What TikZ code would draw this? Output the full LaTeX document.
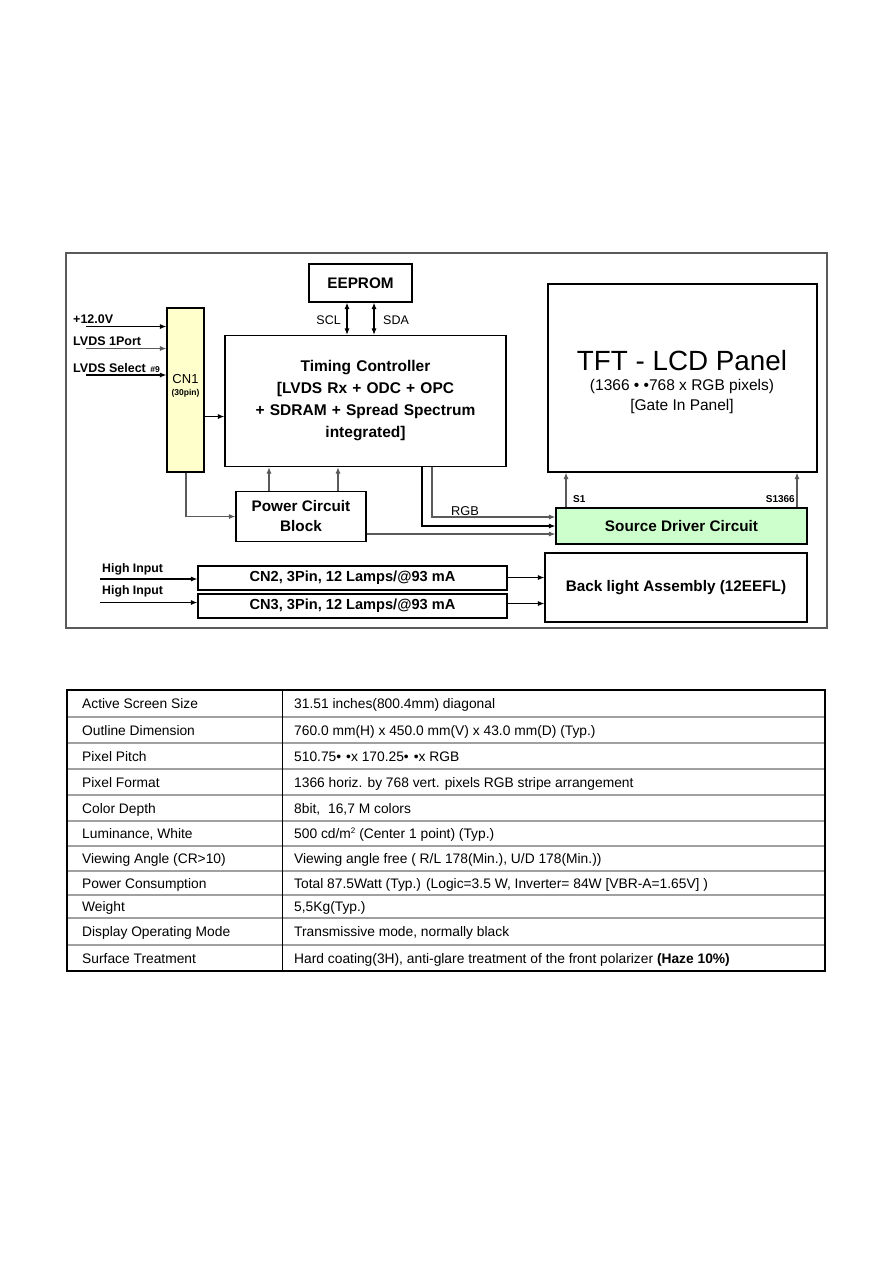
\documentclass[tikz,border=0pt]{standalone}
\usepackage{fontspec}
\setmainfont{Liberation Sans}
\usetikzlibrary{arrows.meta}
\definecolor{cnyellow}{HTML}{FFFFCC}
\definecolor{sdgreen}{HTML}{CCFFCC}
\definecolor{lgray}{HTML}{A0A0A0}
\definecolor{mgray}{HTML}{5A5A5A}
\newcommand{\fsz}[2]{\fontsize{#1}{#2}\selectfont}
\begin{document}
\begin{tikzpicture}[x=1pt,y=-1pt,
  blk/.style={draw=black, line width=1.1pt, inner sep=0pt, font=\fsz{15.3}{18}\bfseries, align=center},
  arr/.style={-{Latex[length=6.5pt,width=5pt]}, line width=1.1pt},
  garr/.style={arr, draw=mgray},
  darr/.style={{Latex[length=6.5pt,width=5pt]}-{Latex[length=6.5pt,width=5pt]}, line width=1.1pt},
  lbl/.style={inner sep=0pt, anchor=base west, font=\fsz{12.5}{14}\bfseries},
  cell/.style={inner sep=0pt, anchor=base west, font=\fsz{13.8}{16}},
  ptxt/.style={inner sep=0pt, anchor=base},
]
\fill[white] (0,0) rectangle (893,1263);
\useasboundingbox (0,0) rectangle (893,1263);

% frame of the block diagram
\draw[line width=1.1pt, mgray] (66,253) rectangle (827,628);

% blocks
\node[blk, minimum width=103pt, minimum height=38pt] (eeprom) at (360.5,283) {EEPROM};
\node[blk, minimum width=281pt, minimum height=131pt, text width=275pt, font=\fsz{15.5}{22}\bfseries] (tc) at (365.5,401)
  {Timing Controller\\{}[LVDS Rx + ODC + OPC\\{}+ SDRAM + Spread Spectrum\\{}integrated]};
\node[blk, fill=cnyellow, minimum width=37pt, minimum height=164pt] (cn1) at (185.5,390) {};
\node[inner sep=0pt, align=center, font=\fsz{13}{12}] (cn1t) at (185.5,386) {CN1\\{\fsz{8.5}{9}\bfseries (30pin)}};
\node[blk, minimum width=130pt, minimum height=50pt, font=\fsz{15.3}{20}\bfseries] (pw) at (301,516.5) {Power Circuit\\Block};
\node[blk, minimum width=269pt, minimum height=188pt] (panel) at (682.5,378) {};
\node[ptxt, font=\fsz{27.8}{30}] (pt1) at (682,370) {TFT - LCD Panel};
\node[ptxt, font=\fsz{15.5}{18}] (pt2) at (682,390) {(1366 • •768 x RGB pixels)};
\node[ptxt, font=\fsz{15.5}{18}] (pt3) at (682,410) {[Gate In Panel]};
\node[blk, fill=sdgreen, minimum width=251pt, minimum height=36pt] (sd) at (681.5,526) {Source Driver Circuit};
\node[blk, minimum width=262pt, minimum height=69pt] (bl) at (676,587.5) {Back light Assembly (12EEFL)};
\node[blk, minimum width=309pt, minimum height=24pt, font=\fsz{14.6}{16}\bfseries] (cn2) at (352.5,578) {CN2, 3Pin, 12 Lamps/@93 mA};
\node[blk, minimum width=309pt, minimum height=24pt, font=\fsz{14.6}{16}\bfseries] (cn3) at (352.5,606) {CN3, 3Pin, 12 Lamps/@93 mA};

% EEPROM bus
\coordinate (scl) at (347,0);
\coordinate (sda) at (374,0);
\draw[darr] (eeprom.south -| scl) -- (tc.north -| scl);
\draw[darr] (eeprom.south -| sda) -- (tc.north -| sda);
\node[inner sep=0pt, anchor=east, font=\fsz{12.5}{14}] (scll) at (341,320) {SCL};
\node[inner sep=0pt, anchor=west, font=\fsz{12.5}{14}] (sdal) at (383,320) {SDA};

% inputs to CN1
\coordinate (i1) at (86,326.5);
\coordinate (i2) at (86,348.5);
\coordinate (i3) at (86,375);
\draw[arr] (i1) -- (i1 -| cn1.west);
\draw[arr, draw=mgray] (i2) -- (i2 -| cn1.west);
\draw[arr] (i3) -- (i3 -| cn1.west);
\node[lbl] (l1) at (73,323) {+12.0V};
\node[lbl] (l2) at (73,345) {LVDS 1Port};
\node[lbl] (l3) at (73,372) {LVDS Select\hspace{4.5pt}{\fsz{8.5}{9}\#9}};

% CN1 to timing controller and power block
\coordinate (c1) at (0,416.5);
\coordinate (c2) at (186,0);
\draw[arr] (cn1.east |- c1) -- (tc.west |- c1);
\draw[garr] (cn1.south -| c2) |- (pw.west);

% power block to timing controller
\coordinate (p1) at (269,0);
\coordinate (p2) at (338,0);
\draw[garr] (pw.north -| p1) -- (tc.south -| p1);
\draw[garr] (pw.north -| p2) -- (tc.south -| p2);

% RGB and power to source driver
\coordinate (r1) at (432,517);
\coordinate (r2) at (422,526);
\coordinate (r3) at (0,534);
\draw[arr, draw=mgray] (tc.south -| r1) |- (sd.west |- r1);
\draw[arr] (tc.south -| r2) |- (sd.west |- r2);
\draw[arr, draw=mgray] (pw.east |- r3) -- (sd.west |- r3);
\node[inner sep=0pt, anchor=base west, font=\fsz{12.8}{14}] (rgbl) at (451,515.5) {RGB};

% source driver to panel
\coordinate (s1) at (566,0);
\coordinate (s2) at (797,0);
\draw[garr] (sd.north -| s1) -- (panel.south -| s1);
\draw[garr] (sd.north -| s2) -- (panel.south -| s2);
\node[inner sep=0pt, anchor=base west, font=\fsz{10}{12}\bfseries] (s1l) at (573,502) {S1};
\node[inner sep=0pt, anchor=base east, font=\fsz{10}{12}\bfseries] (s2l) at (795,502) {S1366};

% backlight inputs
\coordinate (h1) at (100,579);
\coordinate (h2) at (100,602.5);
\draw[arr] (h1) -- (h1 -| cn2.west);
\draw[arr] (h2) -- (h2 -| cn3.west);
\node[lbl, font=\fsz{12.3}{14}\bfseries] (hl1) at (102,572) {High Input};
\node[lbl, font=\fsz{12.3}{14}\bfseries] (hl2) at (102,594.5) {High Input};
\coordinate (b1) at (0,577.5);
\coordinate (b2) at (0,603.5);
\draw[arr] (cn2.east |- b1) -- (bl.west |- b1);
\draw[arr] (cn3.east |- b2) -- (bl.west |- b2);

% specification table
\foreach \y in {717,743,769,795,821,846,871,895,918,945}
  \draw[lgray, line width=1.3pt] (68,\y) -- (824,\y);
\draw[line width=1.8pt] (282.5,690) -- (282.5,971);
\draw[line width=2.2pt] (67,690) rectangle (825,971);

\node[cell] (a1) at (82,708.5) {Active Screen Size};
\node[cell] (a2) at (82,735) {Outline Dimension};
\node[cell] (a3) at (82,761) {Pixel Pitch};
\node[cell] (a4) at (82,787) {Pixel Format};
\node[cell] (a5) at (82,813) {Color Depth};
\node[cell] (a6) at (82,838.5) {Luminance, White};
\node[cell] (a7) at (82,863.5) {Viewing Angle (CR>10)};
\node[cell] (a8) at (82,888) {Power Consumption};
\node[cell] (a9) at (82,911.5) {Weight};
\node[cell] (a10) at (82,936.5) {Display Operating Mode};
\node[cell] (a11) at (82,963) {Surface Treatment};

\node[cell] (b1t) at (294,708.5) {31.51 inches(800.4mm) diagonal};
\node[cell] (b2t) at (294,735) {760.0 mm(H) x 450.0 mm(V) x 43.0 mm(D) (Typ.)};
\node[cell] (b3t) at (294,761) {510.75•\hspace{5pt}•x 170.25•\hspace{5pt}•x RGB};
\node[cell] (b4t) at (294,787) {1366 horiz. by 768 vert. pixels RGB stripe arrangement};
\node[cell] (b5t) at (294,813) {8bit,\hspace{4pt} 16,7 M colors};
\node[cell] (b6t) at (294,838.5) {500 cd/m\raisebox{5pt}{\fsz{8}{8}2} (Center 1 point) (Typ.)};
\node[cell] (b7t) at (294,863.5) {Viewing angle free ( R/L 178(Min.), U/D 178(Min.))};
\node[cell] (b8t) at (294,888) {Total 87.5Watt (Typ.) (Logic=3.5 W, Inverter= 84W [VBR-A=1.65V] )};
\node[cell] (b9t) at (294,911.5) {5,5Kg(Typ.)};
\node[cell] (b10t) at (294,936.5) {Transmissive mode, normally black};
\node[cell] (b11t) at (294,963) {Hard coating(3H), anti-glare treatment of the front polarizer \textbf{(Haze 10\%)}};
\end{tikzpicture}
\end{document}
